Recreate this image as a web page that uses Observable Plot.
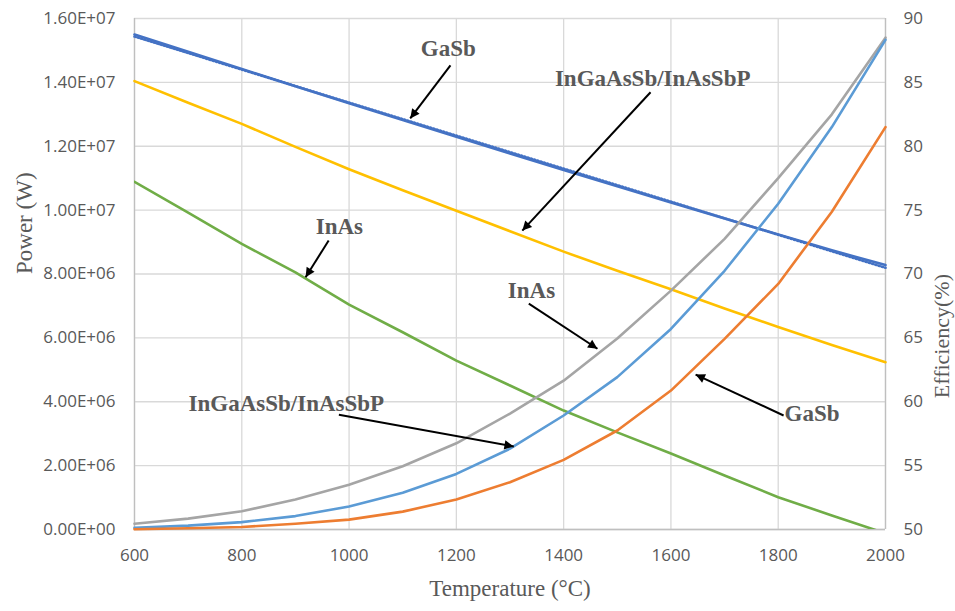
<!DOCTYPE html>
<html>
<head>
<meta charset="utf-8">
<script src="https://cdn.jsdelivr.net/npm/d3@7"></script>
<script src="https://cdn.jsdelivr.net/npm/@observablehq/plot@0.6"></script>
<style>
  html, body { margin: 0; padding: 0; background: #fff; }
</style>
</head>
<body>
<div id="chart"></div>
<script>
// ---------- data ----------
const temps = [600, 700, 800, 900, 1000, 1100, 1200, 1300, 1400, 1500, 1600, 1700, 1800, 1900, 2000];

// Power (W) – left axis
const powerInAs      = [0.18e6, 0.34e6, 0.57e6, 0.94e6, 1.40e6, 1.98e6, 2.70e6, 3.63e6, 4.66e6, 5.98e6, 7.48e6, 9.10e6, 11.0e6, 13.0e6, 15.4e6];
const powerInGaAsSb  = [0.05e6, 0.12e6, 0.23e6, 0.42e6, 0.72e6, 1.15e6, 1.74e6, 2.53e6, 3.57e6, 4.77e6, 6.28e6, 8.10e6, 10.2e6, 12.6e6, 15.33e6];
const powerGaSb      = [0.01e6, 0.04e6, 0.08e6, 0.18e6, 0.31e6, 0.56e6, 0.94e6, 1.48e6, 2.18e6, 3.10e6, 4.35e6, 5.97e6, 7.69e6, 9.95e6, 12.6e6];

// Efficiency (%) – right axis
const effGaSb        = [88.75, 87.39, 86.04, 84.70, 83.37, 82.05, 80.74, 79.44, 78.15, 76.87, 75.60, 74.34, 73.09, 71.85, 70.70];
const effInGaAsSb    = [85.1, 83.4, 81.75, 79.95, 78.2, 76.55, 74.95, 73.35, 71.75, 70.25, 68.8, 67.3, 65.85, 64.45, 63.1];
const effInAs        = [77.22, 74.8, 72.36, 70.12, 67.6, 65.44, 63.22, 61.27, 59.31, 57.6, 55.95, 54.23, 52.53, 51.1, 49.7];

// ticks
const xTicks     = [600, 800, 1000, 1200, 1400, 1600, 1800, 2000];
const powerTicks = [0, 2e6, 4e6, 6e6, 8e6, 10e6, 12e6, 14e6, 16e6];
const effTicks   = [50, 55, 60, 65, 70, 75, 80, 85, 90];

// annotations (temperature, power-scale position)
const labels = [
  {text: "GaSb",             x: 1185, y: 15.06e6},
  {text: "InGaAsSb/InAsSbP", x: 1566, y: 14.12e6},
  {text: "InAs",             x: 982,  y: 9.47e6},
  {text: "InAs",             x: 1340, y: 7.48e6},
  {text: "InGaAsSb/InAsSbP", x: 883,  y: 3.94e6},
  {text: "GaSb",             x: 1863, y: 3.62e6}
];
const arrows = [
  {x1: 1189, y1: 14.53e6, x2: 1114, y2: 12.87e6},
  {x1: 1562, y1: 13.69e6, x2: 1323, y2: 9.36e6},
  {x1: 962,  y1: 9.05e6,  x2: 919,  y2: 7.90e6},
  {x1: 1335, y1: 7.07e6,  x2: 1463, y2: 5.66e6},
  {x1: 981,  y1: 3.59e6,  x2: 1307, y2: 2.60e6},
  {x1: 1810, y1: 3.57e6,  x2: 1646, y2: 4.85e6}
];

// ---------- helpers ----------
// efficiency axis (50..90) shares the power scale (0..1.6e7)
const effToY = e => (e - 50) * 4e5;
const yToEff = y => 50 + y / 4e5;
const series = arr => temps.map((t, i) => ({t, v: arr[i]}));
const effSeries = arr => temps.map((t, i) => ({t, v: effToY(arr[i])}));
function sci(d) {
  const [m, e] = d.toExponential(2).split("e");
  const n = +e;
  return m + "E" + (n < 0 ? "-" : "+") + String(Math.abs(n)).padStart(2, "0");
}

const lw = 2.6;
const serif = "Liberation Serif, Times New Roman, serif";

const chart = Plot.plot({
  width: 955,
  height: 611,
  marginLeft: 134,
  marginRight: 70,
  marginTop: 18,
  marginBottom: 82,
  style: {fontFamily: "Open Sans, sans-serif", fontSize: "17px", color: "#595959", background: "#fff"},
  x: {domain: [600, 2000], axis: null},
  y: {domain: [0, 1.6e7], axis: null},
  marks: [
    Plot.gridX(xTicks, {stroke: "#d9d9d9", strokeOpacity: 1, strokeWidth: 1.3}),
    Plot.gridY(powerTicks, {stroke: "#d9d9d9", strokeOpacity: 1, strokeWidth: 1.3}),
    Plot.ruleX([600, 2000], {stroke: "#bfbfbf", strokeWidth: 1.3}),
    Plot.ruleY([0], {stroke: "#bfbfbf", strokeWidth: 1.3}),

    Plot.axisY(powerTicks, {anchor: "left", tickSize: 0, tickPadding: 19, tickFormat: sci, label: null}),
    Plot.axisY(effTicks.map(effToY), {anchor: "right", tickSize: 0, tickPadding: 18, tickFormat: d => String(Math.round(yToEff(d))), label: null}),
    Plot.axisX(xTicks, {anchor: "bottom", tickSize: 0, tickPadding: 19, tickFormat: d => String(d), label: null}),

    // efficiency lines
    Plot.linearRegressionY(effSeries(effGaSb), {x: "t", y: "v", stroke: "#4472c4", strokeWidth: lw, strokeDasharray: "1.2,2.2", ci: 0}),
    Plot.line(effSeries(effGaSb), {x: "t", y: "v", stroke: "#4472c4", strokeWidth: lw}),
    Plot.line(effSeries(effInGaAsSb), {x: "t", y: "v", stroke: "#ffc000", strokeWidth: lw}),
    Plot.line(effSeries(effInAs), {x: "t", y: "v", stroke: "#70ad47", strokeWidth: lw, clip: true}),

    // power lines
    Plot.line(series(powerInAs), {x: "t", y: "v", stroke: "#a5a5a5", strokeWidth: lw}),
    Plot.line(series(powerInGaAsSb), {x: "t", y: "v", stroke: "#5b9bd5", strokeWidth: lw}),
    Plot.line(series(powerGaSb), {x: "t", y: "v", stroke: "#ed7d31", strokeWidth: lw}),

    // annotations
    Plot.link(arrows, {x1: "x1", y1: "y1", x2: "x2", y2: "y2", stroke: "black", strokeWidth: 2, markerEnd: "arrow"}),
    Plot.text(labels, {x: "x", y: "y", text: "text", fontFamily: serif, fontWeight: "bold", fontSize: 23, fill: "#595959"}),

    // axis titles
    Plot.text(["Power (W)"], {frameAnchor: "left", rotate: -90, dx: -110, fontFamily: serif, fontSize: 23, fill: "#595959"}),
    Plot.text(["Efficiency(%)"], {frameAnchor: "right", rotate: -90, dx: 56, fontFamily: serif, fontSize: 22, fill: "#595959"}),
    Plot.text(["Temperature (°C)"], {frameAnchor: "bottom", dy: 66, fontFamily: serif, fontSize: 23, fill: "#595959"})
  ]
});

// filled arrowheads
d3.select(chart).selectAll("marker").each(function () {
  const m = d3.select(this);
  m.attr("viewBox", "-8 -5 10 10").attr("fill", "black").attr("stroke", "none");
  m.selectAll("*").remove();
  m.append("path").attr("d", "M-7,-3.5L0,0L-7,3.5Z");
});

document.getElementById("chart").appendChild(chart);
</script>
</body>
</html>
